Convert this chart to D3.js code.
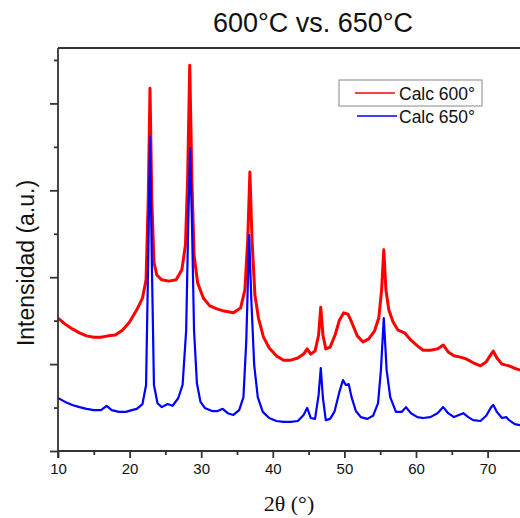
<!DOCTYPE html>
<html><head><meta charset="utf-8">
<script src="https://cdn.jsdelivr.net/npm/d3@7"></script>
<style>
body{margin:0;background:#fff;}
svg{display:block;font-family:"Liberation Sans",Arial,sans-serif;}
</style></head>
<body><svg id="c" width="520" height="518"></svg>
<script>
const title = "600°C vs. 650°C";
const seriesNames = ["Calc 600°", "Calc 650°"];
const seriesColors = ["#ff0000", "#0000ff"];
const xTicks = [10, 20, 30, 40, 50, 60, 70];
const xMinorTicks = [15, 25, 35, 45, 55, 65, 75];
const yMajorTicks = [0, 2, 4, 6, 8];
const yMinorTicks = [1, 3, 5, 7, 9];

// [2θ, intensity (a.u.)]
const calc600 = [
[10.0,3.06],[11.0,2.92],[12.0,2.81],[13.0,2.72],[14.0,2.65],[15.0,2.62],[16.0,2.62],[17.0,2.65],
[18.0,2.67],[19.0,2.78],[20.0,2.97],[21.0,3.25],[21.8,3.52],[22.3,3.94],[22.6,5.78],[22.85,8.35],
[23.1,5.78],[23.4,4.35],[23.8,4.05],[24.5,3.94],[25.5,3.91],[26.5,3.94],[27.3,4.17],[27.8,4.74],
[28.1,6.24],[28.4,8.88],[28.7,6.24],[29.0,4.51],[29.5,3.87],[30.3,3.52],[31.2,3.34],[32.2,3.27],
[33.2,3.22],[34.5,3.18],[35.5,3.29],[36.1,3.71],[36.5,4.86],[36.8,6.42],[37.1,4.86],[37.5,3.59],
[38.0,3.06],[38.7,2.62],[39.5,2.37],[40.5,2.19],[41.5,2.09],[42.5,2.09],[43.5,2.14],[44.3,2.23],
[44.8,2.35],[45.3,2.23],[45.9,2.30],[46.4,2.67],[46.7,3.31],[47.0,2.67],[47.4,2.35],[48.0,2.39],
[48.7,2.67],[49.3,3.01],[49.9,3.18],[50.5,3.15],[51.0,2.97],[51.8,2.65],[52.6,2.51],[53.4,2.58],
[54.2,2.76],[54.8,3.06],[55.2,3.71],[55.5,4.63],[55.8,3.71],[56.2,3.25],[56.8,2.97],[57.5,2.78],
[58.4,2.72],[59.3,2.55],[60.2,2.42],[61.0,2.32],[62.0,2.32],[63.0,2.35],[63.8,2.44],[64.5,2.28],
[65.3,2.19],[66.2,2.16],[67.0,2.12],[68.0,2.03],[69.0,1.96],[69.8,2.05],[70.5,2.23],[70.8,2.30],
[71.3,2.14],[72.0,2.00],[73.0,1.96],[74.0,1.89],[75.0,1.84]
];
const calc650 = [
[10.0,1.22],[11.0,1.13],[12.0,1.06],[13.0,1.01],[14.0,0.97],[15.0,0.94],[16.0,0.94],[16.8,1.04],
[17.5,0.94],[18.5,0.90],[19.5,0.90],[20.3,0.94],[21.0,0.97],[21.8,1.08],[22.3,1.52],[22.6,4.40],
[22.85,7.23],[23.1,4.40],[23.4,1.52],[23.9,1.10],[24.5,1.01],[25.3,1.08],[26.0,1.04],[26.8,1.22],
[27.4,1.52],[27.9,2.78],[28.2,5.32],[28.45,6.97],[28.7,5.32],[29.0,2.78],[29.4,1.56],[29.9,1.13],
[30.5,0.99],[31.5,0.92],[32.3,0.92],[33.0,0.97],[33.7,0.87],[34.5,0.83],[35.3,0.94],[35.9,1.24],
[36.3,2.55],[36.7,4.97],[37.0,3.48],[37.4,1.98],[37.9,1.24],[38.6,0.90],[39.5,0.76],[40.5,0.69],
[41.5,0.67],[42.5,0.67],[43.5,0.69],[44.3,0.83],[44.8,0.99],[45.3,0.76],[45.9,0.74],[46.4,1.29],
[46.7,1.91],[47.0,1.22],[47.4,0.71],[48.0,0.74],[48.6,0.90],[49.3,1.36],[49.8,1.63],[50.2,1.52],
[50.6,1.54],[51.0,1.24],[51.6,0.92],[52.3,0.78],[53.2,0.74],[54.0,0.81],[54.7,1.10],[55.1,1.86],
[55.5,3.06],[55.9,1.86],[56.4,1.24],[57.2,0.90],[58.0,0.90],[58.6,1.01],[59.3,0.87],[60.2,0.78],
[61.0,0.76],[62.0,0.78],[63.0,0.87],[63.8,1.01],[64.5,0.87],[65.3,0.78],[66.0,0.83],[66.6,0.87],
[67.3,0.78],[68.0,0.71],[69.0,0.69],[69.8,0.81],[70.5,1.01],[70.8,1.06],[71.3,0.90],[72.0,0.76],
[72.6,0.78],[73.0,0.71],[73.8,0.62],[75.0,0.58]
];

const svg = d3.select("#c");
const L = 58, T = 48, B = 451, R = 520;
const x = d3.scaleLinear().domain([10, 75]).range([L, L + 65 * 7.16]);
const y = d3.scaleLinear().domain([0, 9.275]).range([B, T]);

svg.append("defs").append("clipPath").attr("id", "clip")
  .append("rect").attr("x", L).attr("y", T).attr("width", R - L).attr("height", B - T);

const line = d3.line().x(d => x(d[0])).y(d => y(d[1]));
const g = svg.append("g").attr("clip-path", "url(#clip)");
g.append("path").datum(calc600).attr("d", line).attr("fill", "none")
  .attr("stroke", seriesColors[0]).attr("stroke-width", 3).attr("stroke-linejoin", "round");
g.append("path").datum(calc650).attr("d", line).attr("fill", "none")
  .attr("stroke", seriesColors[1]).attr("stroke-width", 2.2).attr("stroke-linejoin", "round");

const axisColor = "#333";
const xAxis = svg.append("g").attr("transform", `translate(0,${B})`)
  .call(d3.axisBottom(x).tickValues(xTicks).tickSize(7).tickPadding(5).tickFormat(d3.format("d")));
svg.append("g").attr("transform", `translate(0,${B})`)
  .call(d3.axisBottom(x).tickValues(xMinorTicks).tickSize(4).tickFormat(""))
  .call(s => s.select(".domain").remove());
const yAxis = svg.append("g").attr("transform", `translate(${L},0)`)
  .call(d3.axisLeft(y).tickValues(yMajorTicks).tickSize(8).tickFormat(""));
svg.append("g").attr("transform", `translate(${L},0)`)
  .call(d3.axisLeft(y).tickValues(yMinorTicks).tickSize(4).tickFormat(""))
  .call(s => s.select(".domain").remove());
xAxis.select(".domain").attr("d", `M${L},0H${R + 5}`);
yAxis.select(".domain").attr("d", `M0,${T}V${B + 7}`);
svg.selectAll(".domain, .tick line").attr("stroke", axisColor).attr("stroke-width", 1.8);
xAxis.selectAll(".tick text").attr("font-size", 15).attr("fill", "#111")
  .attr("font-family", "'Liberation Sans',Arial,sans-serif");
svg.append("line").attr("x1", L).attr("x2", R + 5).attr("y1", T).attr("y2", T)
  .attr("stroke", axisColor).attr("stroke-width", 1.8);

svg.append("text").attr("x", 313).attr("y", 32).attr("text-anchor", "middle")
  .attr("font-size", 27).attr("fill", "#111").text(title);
svg.append("text").attr("x", 289).attr("y", 511).attr("text-anchor", "middle")
  .attr("font-family", "'Liberation Serif','Times New Roman',serif")
  .attr("font-size", 22).attr("fill", "#111").text("2θ (°)");
svg.append("text").attr("transform", "translate(34,263) rotate(-90)")
  .attr("text-anchor", "middle").attr("font-size", 23).attr("fill", "#111")
  .text("Intensidad (a.u.)");

const lg = svg.append("g");
lg.append("rect").attr("x", 339).attr("y", 80).attr("width", 143).attr("height", 26)
  .attr("fill", "#fff").attr("stroke", "#888").attr("stroke-width", 1);
const legY = [93, 116];
seriesNames.forEach((n, i) => {
  lg.append("line").attr("x1", 355 + i * 2).attr("x2", 395 + i * 2)
    .attr("y1", legY[i]).attr("y2", legY[i])
    .attr("stroke", seriesColors[i]).attr("stroke-width", 1.6);
  lg.append("text").attr("x", 399).attr("y", legY[i] + 6.5).attr("font-size", 17.5)
    .attr("fill", "#111").text(n);
});
</script></body></html>
